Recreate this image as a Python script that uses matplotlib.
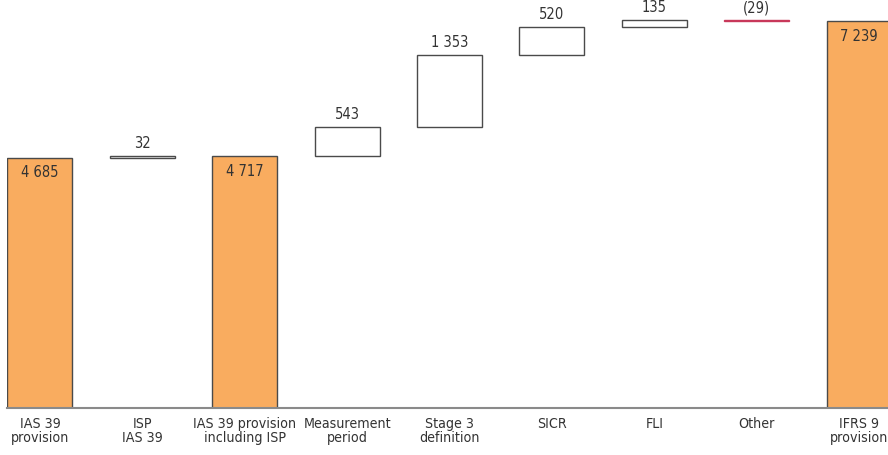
import numpy as np
import matplotlib.pyplot as plt

plt.rcParams['font.family'] = ['DejaVu Sans']
plt.rcParams['font.stretch'] = 'condensed'

categories = ['IAS 39\nprovision', 'ISP\nIAS 39', 'IAS 39 provision\nincluding ISP',
              'Measurement\nperiod', 'Stage 3\ndefinition', 'SICR', 'FLI', 'Other',
              'IFRS 9\nprovision']
values = [4685, 32, 4717, 543, 1353, 520, 135, -29, 7239]
is_total = [True, False, True, False, False, False, False, False, True]
labels = ['4 685', '32', '4 717', '543', '1 353', '520', '135', '(29)', '7 239']

orange = '#F9AC5F'
edge = '#4a4a4a'
neg_edge = '#C8385A'
txt = '#333333'

fig = plt.figure(figsize=(8.88, 4.56), dpi=100)
ax = fig.add_axes([7 / 888, (456 - 409) / 456, 881 / 888, 409 / 456])

x = np.arange(len(values))
width = 0.635
running = 0
ymax = 7660
for i, (v, tot, lab) in enumerate(zip(values, is_total, labels)):
    if tot:
        bottom, height = 0, v
        running = v
        ax.bar(i, height, width, bottom=bottom, color=orange, edgecolor=edge, linewidth=1.0)
        ax.text(i, v - ymax * 0.016, lab, ha='center', va='top', fontsize=10.5, color=txt)
    else:
        bottom = running if v >= 0 else running + v
        height = abs(v)
        ec = edge if v >= 0 else neg_edge
        ax.bar(i, height, width, bottom=bottom, color='white', edgecolor=ec, linewidth=1.0)
        top = bottom + height
        ax.text(i, top + ymax * 0.014, lab, ha='center', va='bottom', fontsize=10.5, color=txt)
        running += v

ax.set_xlim(-0.322, 8.283)
ax.set_ylim(0, ymax)
ax.set_xticks(x)
ax.set_xticklabels(categories, fontsize=10.2, color=txt, linespacing=1.0)
ax.tick_params(axis='x', length=0, pad=6)
ax.set_yticks([])
for s in ['top', 'right', 'left']:
    ax.spines[s].set_visible(False)
ax.spines['bottom'].set_color('#8a8a8a')
ax.spines['bottom'].set_linewidth(1.5)

fig.savefig('out.png', dpi=100)
